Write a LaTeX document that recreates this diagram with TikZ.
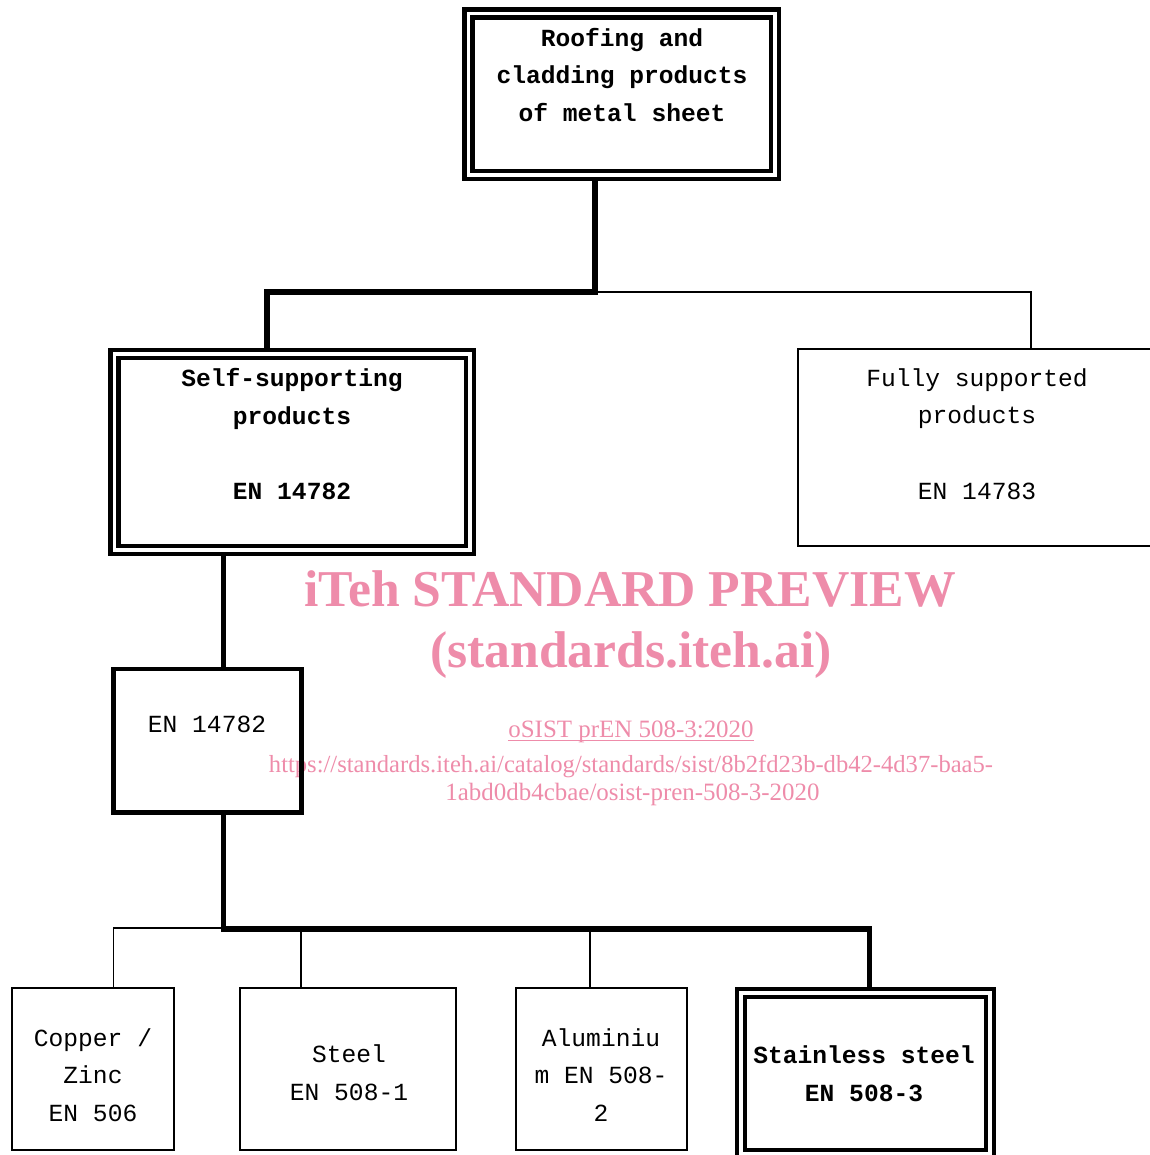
\documentclass[tikz,border=0pt]{standalone}
\usepackage{fontspec}
\newfontfamily\boxfont{Liberation Mono}
\newfontfamily\markfont{Liberation Serif}
\definecolor{markpink}{RGB}{238,140,170}

\begin{document}
\begin{tikzpicture}[
   x=0.02cm,
   y=-0.02cm,
   line join=miter,
   box/.style={
      draw,
      line width=1pt,
      inner sep=0pt
   },
   dblbox/.style={
      draw,
      double,
      line width=2.5pt,
      double distance=2pt,
      inner sep=0pt
   },
   heavybox/.style={
      draw,
      line width=2.8pt,
      inner sep=0pt
   },
   boxtext/.style={
      align=center,
      inner sep=0pt,
      font=\boxfont\fontsize{14}{21.5}\selectfont
   },
   boldtext/.style={
      boxtext,
      font=\boxfont\bfseries\fontsize{14}{21.5}\selectfont
   },
   link/.style={line width=3.2pt},
   thinlink/.style={line width=1pt},
   wmbig/.style={
      text=markpink,
      inner sep=0pt,
      anchor=base,
      font=\markfont\bfseries\fontsize{29.4}{34}\selectfont
   },
   wmsmall/.style={
      text=markpink,
      inner sep=0pt,
      anchor=base,
      font=\markfont\fontsize{14}{17}\selectfont
   }
]

   \useasboundingbox (0,0) rectangle (1149,1155);

   % Watermark
   \node[wmbig] (wm-title) at (630,606) {iTeh STANDARD PREVIEW};
   \node[wmbig] (wm-site) at (631,667) {(standards.iteh.ai)};
   \node[wmsmall, font=\markfont\fontsize{14.2}{17}\selectfont] (wm-code) at (631,737)
   {oSIST prEN 508-3:2020};
   \draw[markpink, line width=0.7pt]
      ([yshift=-1.8pt]wm-code.base west) -- ([yshift=-1.8pt]wm-code.base east);
   \node[wmsmall] (wm-url) at (631,772)
   {https://standards.iteh.ai/catalog/standards/sist/8b2fd23b-db42-4d37-baa5-};
   \node[wmsmall, font=\markfont\fontsize{14.2}{17}\selectfont] (wm-path) at (632.5,800)
   {1abd0db4cbae/osist-pren-508-3-2020};

   % Roofing and cladding
   \node[
      dblbox,
      minimum width=6.13cm,
      minimum height=3.23cm
   ] (roof) at (621.75,94.2) {};

   \node[boldtext] (roof-text) at (622,75)
   {
      Roofing and\\
      cladding products\\
      of metal sheet
   };

   % Self-supporting
   \node[
      dblbox,
      minimum width=7.11cm,
      minimum height=3.92cm
   ] (selfsup) at (292.25,452) {};

   \node[boldtext] (selfsup-text) at (292,434)
   {
      Self-supporting\\
      products\\[21.5pt]
      EN 14782
   };

   % Fully supported
   \node[
      box,
      minimum width=7.16cm,
      minimum height=3.94cm
   ] (fullysup) at (977,447.5) {};

   \node[boxtext] (fullysup-text) at (977,434)
   {
      Fully supported\\
      products\\[21.5pt]
      EN 14783
   };

   % EN 14782
   \node[
      heavybox,
      minimum width=3.76cm,
      minimum height=2.87cm
   ] (en) at (207.5,740.75) {};

   \node[boxtext] (en-text) at (207,724) {EN 14782};

   % Metals
   \node[
      box,
      minimum width=3.24cm,
      minimum height=3.24cm
   ] (copper) at (93,1069) {};

   \node[boxtext] (copper-text) at (93,1075)
   {
      Copper /\\
      Zinc\\
      EN 506
   };

   \node[
      box,
      minimum width=4.32cm,
      minimum height=3.24cm
   ] (steel) at (348,1069) {};

   \node[boxtext] (steel-text) at (349,1073)
   {
      Steel\\
      EN 508-1
   };

   \node[
      box,
      minimum width=3.42cm,
      minimum height=3.24cm
   ] (alu) at (601.5,1069) {};

   \node[boxtext] (alu-text) at (601,1075)
   {
      Aluminiu\\
      m EN 508-\\
      2
   };

   \node[
      dblbox,
      minimum width=4.98cm,
      minimum height=3.22cm
   ] (stainless) at (865.5,1073.5) {};

   \node[boldtext] (stainless-text) at (864,1073.5)
   {
      Stainless steel\\
      EN 508-3
   };

   % Junctions
   \coordinate (topsplit) at (595,292);
   \coordinate (selfdrop) at (267,292);
   \coordinate (fullydrop) at (1031,292);
   \coordinate (stemfoot) at (223.5,929);
   \coordinate (leftend) at (113.5,928);
   \coordinate (steeldrop) at (301.3,929);
   \coordinate (aludrop) at (589.7,929);
   \coordinate (stainlessdrop) at (869.5,929);

   % Roofing to product types
   \draw[link]
      (roof.south -| topsplit)
      -- (topsplit)
      -- (selfdrop)
      -- (selfdrop |- selfsup.north);

   \draw[thinlink]
      (topsplit)
      -- (fullydrop)
      -- (fullydrop |- fullysup.north);

   % Self-supporting to EN 14782
   \draw[link] (selfsup.south -| stemfoot) -- (en.north -| stemfoot);

   % EN 14782 to metals
   \draw[link]
      (en.south -| stemfoot)
      -- (stemfoot)
      -- (stainlessdrop)
      -- (stainlessdrop |- stainless.north);

   \draw[thinlink]
      (leftend -| stemfoot)
      -- (leftend)
      -- (leftend |- copper.north);

   \draw[thinlink] (steeldrop) -- (steeldrop |- steel.north);
   \draw[thinlink] (aludrop) -- (aludrop |- alu.north);

\end{tikzpicture}
\end{document}
